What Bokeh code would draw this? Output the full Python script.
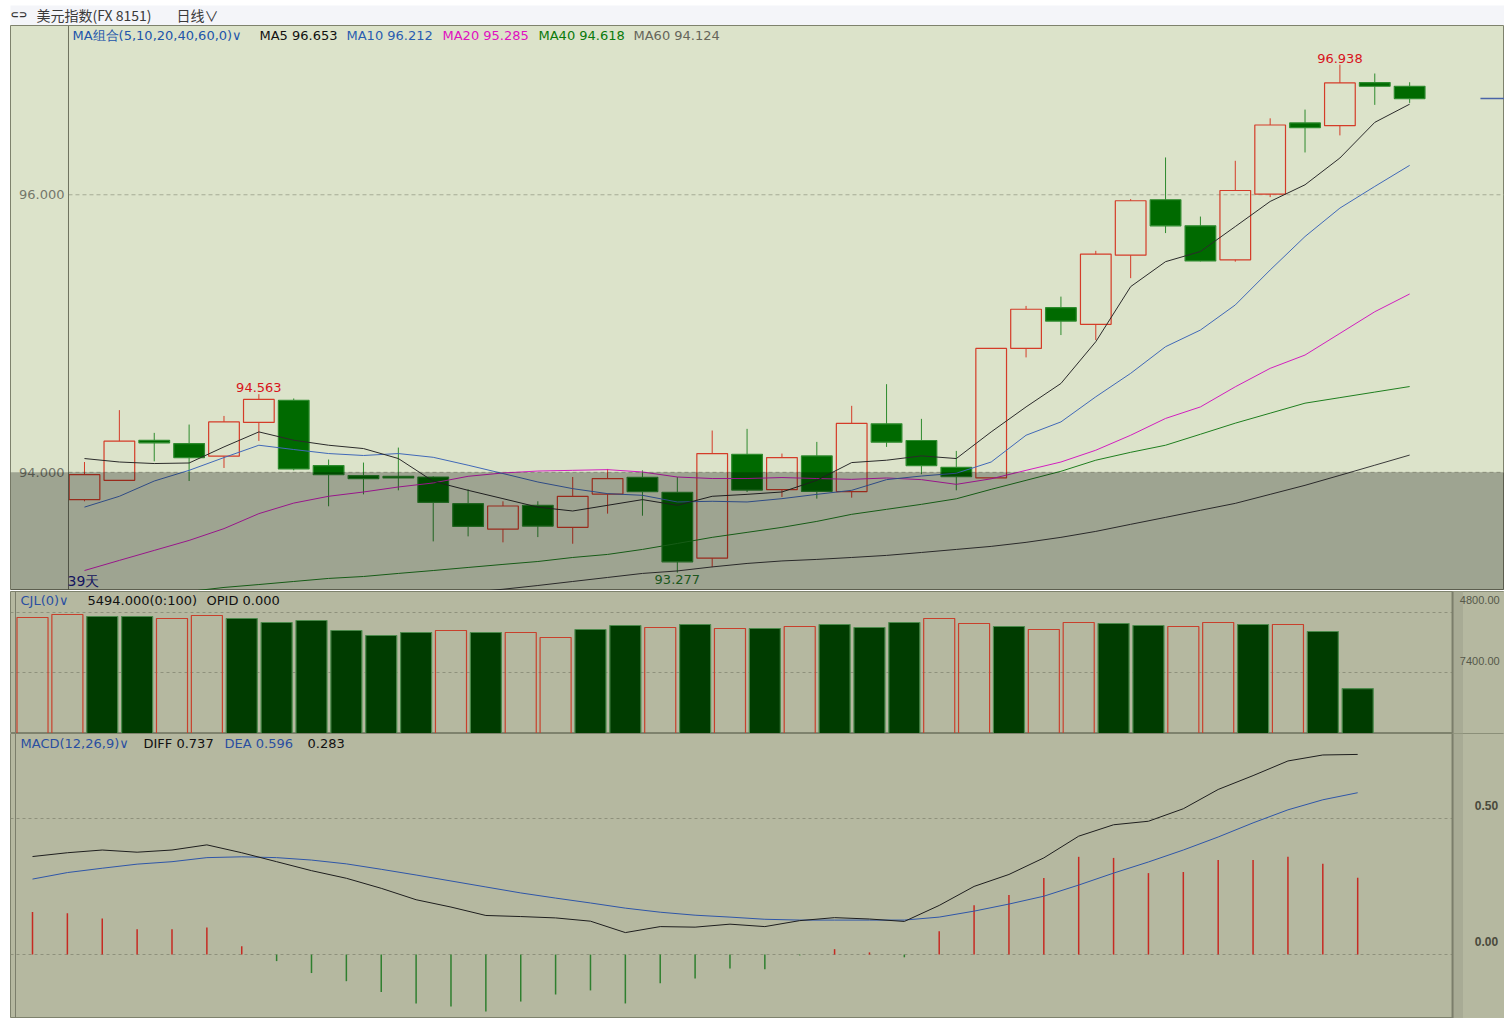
from bokeh.plotting import figure
from bokeh.layouts import column
from bokeh.models import (Range1d, FixedTicker, Label, BoxAnnotation, ColumnDataSource, Span)
from bokeh.core.properties import value
from bokeh.embed import file_html
from bokeh.resources import INLINE

# ---------------- data ----------------
open_ = [93.803, 93.942, 94.231, 94.207, 94.116, 94.359, 94.518, 94.048, 93.976, 93.971,
         93.966, 93.774, 93.591, 93.762, 93.603, 93.843, 93.964, 93.856, 93.381, 94.130,
         93.875, 94.118, 93.861, 94.349, 94.229, 94.036, 93.959, 94.893, 95.186, 95.066,
         95.565, 95.964, 95.776, 95.531, 96.005, 96.518, 96.498, 96.809, 96.782]
high = [94.074, 94.448, 94.284, 94.344, 94.406, 94.563, 94.532, 94.092, 94.070, 94.178,
        93.971, 93.877, 93.791, 93.791, 93.966, 94.024, 94.014, 93.966, 94.301, 94.313,
        94.135, 94.219, 94.479, 94.635, 94.385, 94.154, 94.895, 95.199, 95.266, 95.596,
        95.969, 96.269, 95.843, 96.245, 96.551, 96.614, 96.938, 96.874, 96.811]
low = [93.791, 93.940, 94.079, 93.937, 94.031, 94.226, 94.014, 93.755, 93.841, 93.870,
       93.502, 93.538, 93.495, 93.533, 93.485, 93.702, 93.687, 93.277, 93.316, 93.858,
       93.822, 93.810, 93.817, 94.183, 93.986, 93.870, 93.957, 94.828, 94.989, 94.953,
       95.399, 95.724, 95.520, 95.518, 95.983, 96.305, 96.428, 96.648, 96.662]
close = [93.983, 94.224, 94.212, 94.106, 94.363, 94.525, 94.024, 93.983, 93.955, 93.959,
         93.783, 93.610, 93.757, 93.612, 93.827, 93.955, 93.861, 93.355, 94.135, 93.872,
         94.106, 93.863, 94.352, 94.217, 94.048, 93.969, 94.893, 95.175, 95.090, 95.572,
         95.957, 95.776, 95.523, 96.031, 96.503, 96.484, 96.806, 96.782, 96.693]

ma5 = [94.099, 94.074, 94.063, 94.067, 94.183, 94.291, 94.231, 94.195, 94.171, 94.099,
       93.935, 93.870, 93.810, 93.749, 93.721, 93.762, 93.803, 93.762, 93.827, 93.841,
       93.858, 93.942, 94.070, 94.087, 94.118, 94.099, 94.291, 94.471, 94.640, 94.941,
       95.338, 95.518, 95.591, 95.771, 95.952, 96.072, 96.265, 96.522, 96.653]
ma10 = [93.749, 93.827, 93.937, 94.014, 94.106, 94.195, 94.164, 94.135, 94.121, 94.135,
        94.108, 94.051, 93.991, 93.930, 93.882, 93.846, 93.834, 93.786, 93.791, 93.786,
        93.810, 93.841, 93.870, 93.947, 93.973, 93.993, 94.074, 94.267, 94.363, 94.544,
        94.713, 94.905, 95.025, 95.206, 95.458, 95.699, 95.904, 96.060, 96.212]
ma20 = [93.292, 93.365, 93.437, 93.509, 93.594, 93.702, 93.778, 93.827, 93.858, 93.894,
        93.923, 93.971, 93.995, 94.009, 94.014, 94.019, 94.002, 93.966, 93.955, 93.955,
        93.962, 93.955, 93.949, 93.959, 93.947, 93.913, 93.953, 94.014, 94.074, 94.159,
        94.267, 94.388, 94.471, 94.616, 94.749, 94.845, 95.001, 95.157, 95.285]
ma40 = [93.061, 93.090, 93.112, 93.141, 93.170, 93.191, 93.213, 93.235, 93.249, 93.271,
        93.292, 93.314, 93.336, 93.357, 93.386, 93.408, 93.444, 93.487, 93.531, 93.567,
        93.603, 93.646, 93.697, 93.733, 93.769, 93.809, 93.877, 93.942, 94.007, 94.087,
        94.144, 94.195, 94.274, 94.354, 94.426, 94.498, 94.538, 94.578, 94.618]
ma60 = [92.816, 92.845, 92.874, 92.903, 92.931, 92.960, 92.989, 93.018, 93.047, 93.076,
        93.105, 93.134, 93.157, 93.184, 93.213, 93.242, 93.271, 93.289, 93.318, 93.343,
        93.361, 93.372, 93.386, 93.401, 93.422, 93.444, 93.466, 93.495, 93.531, 93.574,
        93.625, 93.675, 93.726, 93.776, 93.841, 93.906, 93.978, 94.051, 94.124]

volume = [14187, 14554, 14310, 14310, 14065, 14432, 14065, 13576, 13821, 12598,
          11987, 12353, 12598, 12353, 12353, 11742, 12720, 13210, 12965, 13332,
          12843, 12843, 13087, 13332, 12965, 13576, 14065, 13454, 13087, 12720,
          13576, 13454, 13210, 13087, 13576, 13332, 13332, 12476, 5494]

diff = [0.361, 0.375, 0.385, 0.377, 0.385, 0.404, 0.375, 0.342, 0.309, 0.281,
        0.244, 0.202, 0.175, 0.144, 0.140, 0.135, 0.123, 0.081, 0.103, 0.101,
        0.112, 0.103, 0.125, 0.136, 0.131, 0.122, 0.181, 0.251, 0.295, 0.356,
        0.436, 0.478, 0.491, 0.537, 0.608, 0.659, 0.713, 0.735, 0.737]
dea = [0.278, 0.302, 0.318, 0.333, 0.342, 0.357, 0.360, 0.357, 0.348, 0.334,
       0.314, 0.293, 0.271, 0.249, 0.227, 0.208, 0.190, 0.171, 0.156, 0.145,
       0.138, 0.130, 0.127, 0.127, 0.127, 0.127, 0.138, 0.160, 0.186, 0.215,
       0.256, 0.300, 0.341, 0.385, 0.433, 0.485, 0.533, 0.570, 0.596]
macd_hist = [0.157, 0.152, 0.133, 0.093, 0.093, 0.100, 0.031, -0.024, -0.068, -0.098,
             -0.138, -0.180, -0.191, -0.210, -0.173, -0.147, -0.132, -0.180, -0.106, -0.088,
             -0.051, -0.054, -0.003, 0.020, 0.008, -0.010, 0.086, 0.182, 0.219, 0.282,
             0.360, 0.356, 0.300, 0.304, 0.348, 0.348, 0.360, 0.334, 0.283]

price_ticks = [94.0, 96.0]
shade_level = 94.0
vol_ticks = [7400, 14800]
vol_side_labels = ["7400.00", "4800.00"]
macd_ticks = [0.0, 0.5]
marked_highs = [5, 36]
marked_lows = [17]
n_days = len(close)

# ---------------- styling ----------------
W = 1504
LB = 10                      # white strip left of every panel
BG_MAIN = "#dce3ca"
BG_LOW = "#b5b8a0"
RED = "#d43c28"
GREEN_BODY = "#006a00"
GREEN_EDGE = "#2e8b2e"
FONT = "DejaVu Sans"
OUTLINE = "#7e826d"

idx = list(range(n_days))
up = [c >= o for o, c in zip(open_, close)]


def base_fig(height, xr, yr, bg, top=0, bottom=0):
    f = figure(width=W, height=height, x_range=xr, y_range=yr, output_backend="svg",
               toolbar_location=None, x_axis_location=None, y_axis_location=None,
               min_border_left=LB, min_border_right=0, min_border_top=top,
               min_border_bottom=bottom, background_fill_color=bg,
               border_fill_color="white", outline_line_color=OUTLINE)
    f.xgrid.visible = False
    f.ygrid.visible = False
    return f


def add_label(fig, txt, x, y, col, size="13px", style="normal", font=FONT):
    fig.add_layout(Label(x=x, y=y, x_units="screen", y_units="screen", text=txt,
                         text_font=font, text_font_size=size, text_font_style=style,
                         text_color=col, text_baseline="middle"))


# ================= header strip =================
hdr = base_fig(25, Range1d(0, W - LB), Range1d(0, 20), "#f4f5f9", top=5)
hdr.outline_line_color = None
add_label(hdr, "⊂⊃", 0, 11, "#333333", size="10px", style="bold")
add_label(hdr, "美元指数(FX 8151)", 26, 11, "#3a3a3a", size="14px", font="Noto Sans CJK SC")
add_label(hdr, "日线∨", 166, 11, "#3a3a3a", size="14px", font="Noto Sans CJK SC")

# ================= main candlestick panel =================
AXIS_X = -0.459              # separator between price labels and candles
main = base_fig(565, Range1d(-2.122, 40.72), Range1d(93.148, 97.220), BG_MAIN)

main.segment(x0=[AXIS_X] * len(price_ticks), y0=price_ticks, x1=[41.0] * len(price_ticks),
             y1=price_ticks, line_color="#a6ab95", line_dash="4 3", line_width=1)
main.text(x=[AXIS_X] * len(price_ticks), y=price_ticks, text=[f"{t:.3f}" for t in price_ticks],
          text_align="right", text_baseline="middle", x_offset=-4, text_color="#74776a",
          text_font=value(FONT), text_font_size="13px")
main.add_layout(Span(location=AXIS_X, dimension="height", line_color="#6f735f", line_width=1))

csrc = ColumnDataSource(dict(
    x=idx,
    top=[max(o, c) for o, c in zip(open_, close)],
    bot=[min(o, c) for o, c in zip(open_, close)],
    h=high, l=low,
    fill=[BG_MAIN if u else GREEN_BODY for u in up],
    falpha=[0.0 if u else 1.0 for u in up],
    lc=[RED if u else GREEN_EDGE for u in up],
))
main.segment(x0="x", y0="h", x1="x", y1="top", line_color="lc", line_width=1, source=csrc)
main.segment(x0="x", y0="bot", x1="x", y1="l", line_color="lc", line_width=1, source=csrc)
main.vbar(x="x", top="top", bottom="bot", width=0.88, fill_color="fill", fill_alpha="falpha",
          line_color="lc", line_width=1.2, source=csrc)

for ma, col in [(ma60, "#3a3a3a"), (ma40, "#1f7f1f"), (ma20, "#d21fbf"),
                (ma10, "#4169b8"), (ma5, "#2b2b2b")]:
    main.line(idx, ma, line_color=col, line_width=1)

# current price marker at the right edge
main.ray(x=[40.03], y=[close[-1]], length=0, angle=0, line_color="#4a64a8", line_width=1.5)

main.text(x=marked_highs, y=[high[i] for i in marked_highs],
          text=[f"{high[i]:.3f}" for i in marked_highs], text_align="center",
          text_baseline="bottom", y_offset=-2, text_color="#d8141c",
          text_font=value(FONT), text_font_size="13px")
main.text(x=marked_lows, y=[low[i] for i in marked_lows],
          text=[f"{low[i]:.3f}" for i in marked_lows], text_align="center",
          text_baseline="top", y_offset=2, text_color="#2a7a2a",
          text_font=value(FONT), text_font_size="13px")

main.add_layout(BoxAnnotation(top=shade_level, fill_color="black", fill_alpha=0.28,
                              line_color=None))
add_label(main, f"{n_days}天", 57, 10, "#14145f", size="14px")

for txt, x, col in [("MA组合(5,10,20,40,60,0)∨", 62, "#2255aa"),
                    (f"MA5 {ma5[-1]:.3f}", 249, "#111111"),
                    (f"MA10 {ma10[-1]:.3f}", 336, "#2a5db0"),
                    (f"MA20 {ma20[-1]:.3f}", 432, "#e010c0"),
                    (f"MA40 {ma40[-1]:.3f}", 528, "#0a7a0a"),
                    (f"MA60 {ma60[-1]:.3f}", 623, "#66665a")]:
    add_label(main, txt, x, 555, col)

# ================= volume panel =================
SEP = 40.72                  # separator to the right-hand scale pane
LOW_LEFT = -0.4875           # left edge line of the lower panes
vol = base_fig(143, Range1d(-0.631, 42.21), Range1d(0, 17368), BG_LOW, top=1)
vol.ygrid.visible = True
vol.ygrid.ticker = FixedTicker(ticks=vol_ticks)
vol.ygrid.grid_line_color = "#8e917c"
vol.ygrid.grid_line_dash = "3 3"

vsrc = ColumnDataSource(dict(
    x=idx, v=volume,
    fill=[BG_LOW if u else "#003c00" for u in up],
    falpha=[0.0 if u else 1.0 for u in up],
    lc=["#c8402c" if u else "#4c8a4c" for u in up],
))
vol.vbar(x="x", top="v", bottom=0, width=0.89, fill_color="fill", fill_alpha="falpha",
         line_color="lc", line_width=1.2, source=vsrc)

# ================= MACD panel =================
macd = base_fig(285, Range1d(-0.631, 42.21), Range1d(-0.2354, 0.8141), BG_LOW)
macd.ygrid.visible = True
macd.ygrid.ticker = FixedTicker(ticks=macd_ticks)
macd.ygrid.grid_line_color = "#8e917c"
macd.ygrid.grid_line_dash = "3 3"

hsrc = ColumnDataSource(dict(x=idx, h=macd_hist,
                             c=["#c62a22" if h >= 0 else "#2f7f2f" for h in macd_hist]))
macd.segment(x0="x", y0=0, x1="x", y1="h", line_color="c", line_width=1.5, source=hsrc)
macd.line(idx, dea, line_color="#2f56a8", line_width=1)
macd.line(idx, diff, line_color="#1e1e1e", line_width=1)

for f in (vol, macd):
    f.add_layout(BoxAnnotation(left=SEP, fill_color=BG_LOW, fill_alpha=1, line_color=None))
    f.add_layout(BoxAnnotation(left=SEP, right=SEP + 0.3, fill_color="#a8ab95",
                               fill_alpha=1, line_color=None))
    f.add_layout(Span(location=SEP, dimension="height", line_color="#7b7e6b", line_width=2))
    f.add_layout(Span(location=LOW_LEFT, dimension="height", line_color="#7b7e6b",
                      line_width=1))

# right-hand scale texts (kept fully inside the page)
for t, lab in zip(vol_ticks, vol_side_labels):
    vol.add_layout(Label(x=40.93, y=t, x_units="data", y_units="data", y_offset=12,
                         text=lab, text_font="Liberation Sans", text_font_size="11px",
                         text_color="#56584a", text_baseline="middle"))
for t in macd_ticks:
    macd.add_layout(Label(x=41.36, y=t, x_units="data", y_units="data", y_offset=13,
                          text=f"{t:.2f}", text_font="Liberation Sans", text_font_size="12px",
                          text_font_style="bold", text_color="#4a4a3c",
                          text_baseline="middle"))

for txt, x, col in [("CJL(0)∨", 10, "#2a4fa0"),
                    (f"{volume[-1]:.3f}(0:100)", 77, "#111111"),
                    ("OPID 0.000", 196, "#111111")]:
    add_label(vol, txt, x, 133, col)

for txt, x, col in [("MACD(12,26,9)∨", 10, "#2a4fa0"),
                    (f"DIFF {diff[-1]:.3f}", 133, "#111111"),
                    (f"DEA {dea[-1]:.3f}", 214, "#2a4fa0"),
                    (f"{macd_hist[-1]:.3f}", 297, "#111111")]:
    add_label(macd, txt, x, 275, col)

p = column(hdr, main, vol, macd, spacing=0)
open("out.html", "w").write(file_html(p, INLINE))
